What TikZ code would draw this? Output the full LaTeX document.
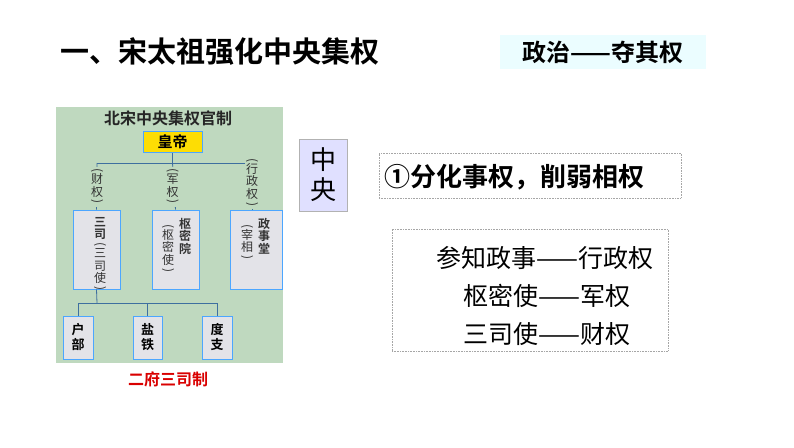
\documentclass[tikz,border=0pt]{standalone}
\usepackage{fontspec}
\setmainfont{Noto Sans CJK SC}
\newfontfamily\cjkb{Noto Sans CJK SC Bold}
\newcommand{\vop}{\rotatebox[origin=c]{-90}{(}}
\newcommand{\vcl}{\rotatebox[origin=c]{-90}{)}}
\begin{document}
\begin{tikzpicture}[x=1pt,y=-1pt,
  org/.style={draw=cyan!60!blue!70!black,line width=0.8pt},
  obox/.style={draw=blue!50!cyan!70,line width=1pt,fill=blue!8!gray!20,inner sep=0pt},
  lbl/.style={font=\fontsize{12}{12.5}\selectfont,align=center,text=black!80,inner sep=0pt},
  frame/.style={draw=gray!70,densely dotted,line width=0.6pt}]
\useasboundingbox (0,0) rectangle (794,447);
\node[anchor=west,font=\cjkb\fontsize{29}{32}\selectfont] (title) at (57,52) {一、宋太祖强化中央集权};
\node[fill=blue!10!cyan!8,minimum width=206,minimum height=34,font=\cjkb\fontsize{24}{26}\selectfont] (pol) at (603,52) {政治——夺其权};
% left diagram
\fill[green!25!gray!40] (56,107) rectangle (283,363);
\node[font=\cjkb\fontsize{16}{17}\selectfont,text=black!85] (t) at (168,118) {北宋中央集权官制};
\node[fill=yellow!80!orange,draw=blue!50!cyan!70,line width=1pt,minimum width=59,minimum height=20,font=\cjkb\fontsize{15}{15}\selectfont] (hd) at (172.5,142) {皇帝};
\node[obox,minimum width=47,minimum height=79] (ss) at (96.5,249.5) {};
\node[obox,minimum width=47,minimum height=79] (smy) at (175.5,249.5) {};
\node[obox,minimum width=52,minimum height=79] (zst) at (256,249.5) {};
\node[lbl,anchor=north] at (100,217) {\cjkb 三\\\cjkb 司\\[-3pt]\vop\\[-3pt]三\\司\\使\\[-3pt]\vcl};
\node[lbl,anchor=north] at (185,218) {\cjkb 枢\\\cjkb 密\\\cjkb 院};
\node[lbl,anchor=north] at (168,224) {\vop\\[-3pt]枢\\密\\使\\[-3pt]\vcl};
\node[lbl,anchor=north] at (264,218) {\cjkb 政\\\cjkb 事\\\cjkb 堂};
\node[lbl,anchor=north] at (247,224) {\vop\\[-3pt]宰\\相\\[-3pt]\vcl};
\coordinate (j1) at (172.5,163);
\draw[org] (hd.south) -- (j1);
\draw[org] (97,163) -- (252,163);
\draw[org] (97,163) -- (ss.north);
\draw[org] (j1) -- (smy.north);
\draw[org] (252,163) -- (252,210);
\node[lbl,fill=green!25!gray!40,inner sep=1pt] at (97,187) {\vop\\[-3pt]财\\权\\[-3pt]\vcl};
\node[lbl,fill=green!25!gray!40,inner sep=1pt] at (172.5,187) {\vop\\[-3pt]军\\权\\[-3pt]\vcl};
\node[lbl,fill=green!25!gray!40,inner sep=1pt] at (252,183) {\vop\\[-3pt]行\\政\\权\\[-3pt]\vcl};
\node[obox,minimum width=30,minimum height=43,font=\cjkb\fontsize{13}{15}\selectfont,align=center] (hb) at (78,337.5) {户\\部};
\node[obox,minimum width=29,minimum height=43,font=\cjkb\fontsize{13}{15}\selectfont,align=center] (yt) at (147.5,337.5) {盐\\铁};
\node[obox,minimum width=30,minimum height=43,font=\cjkb\fontsize{13}{15}\selectfont,align=center] (dz) at (217,337.5) {度\\支};
\coordinate (j2) at (97,303);
\draw[org] (ss.south) -- (j2);
\draw[org] (78,303) -- (217,303);
\draw[org] (78,303) -- (hb.north);
\draw[org] (147.5,303) -- (yt.north);
\draw[org] (217,303) -- (dz.north);
\node[text=red!85!black,font=\cjkb\fontsize{16}{17}\selectfont] (efs) at (168,379) {二府三司制};
% right
\node[draw=gray!60,fill=blue!12,minimum width=48,minimum height=72,align=center,font=\fontsize{26}{30}\selectfont] (zy) at (323,175) {中\\央};
\node[frame,minimum width=302,minimum height=45] (b1) at (530,175.5) {};
\node[anchor=west,font=\cjkb\fontsize{26}{28}\selectfont] at (381,177) {①分化事权，削弱相权};
\node[frame,minimum width=276,minimum height=122] (b2) at (530,290) {};
\node[font=\fontsize{25}{28}\selectfont] at (545,258) {参知政事——行政权};
\node[font=\fontsize{25}{28}\selectfont] at (547,296) {枢密使——军权};
\node[font=\fontsize{25}{28}\selectfont] at (547,334) {三司使——财权};
\end{tikzpicture}
\end{document}
